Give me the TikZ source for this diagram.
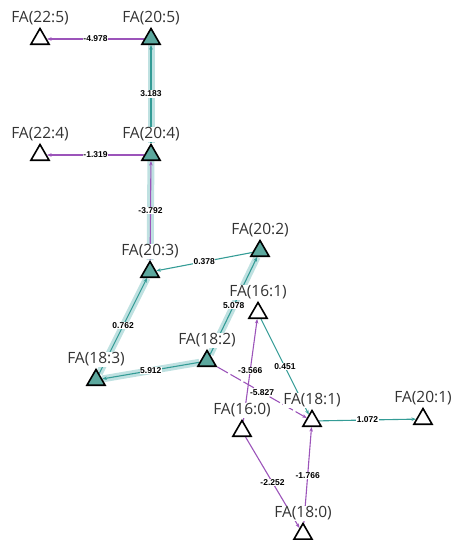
\documentclass[tikz,border=0pt]{standalone}
\usepackage{fontspec}
\setmainfont{Open Sans}
\newfontfamily\edgefont{Liberation Sans}
\usetikzlibrary{shapes.geometric,arrows.meta}
\definecolor{tealline}{RGB}{52,156,150}
\definecolor{tealfill}{RGB}{92,168,158}
\definecolor{tealglow}{RGB}{184,222,222}
\definecolor{purpline}{RGB}{156,84,186}
\definecolor{labelgray}{RGB}{51,51,51}
\pgfdeclarelayer{edges}
\pgfsetlayers{edges,main}
\begin{document}
\begin{tikzpicture}[x=1pt,y=-1pt,
  fa/.style={regular polygon,regular polygon sides=3,draw=black,line width=1.6pt,
    minimum size=21pt,inner sep=0pt},
  faon/.style={fa,fill=tealfill},
  faoff/.style={fa,fill=white},
  nlbl/.style={font=\fontsize{15.5}{16}\selectfont,text=labelgray,fill=white,inner sep=0.5pt,label distance=1pt},
  elbl/.style={font=\edgefont\bfseries\fontsize{8.5}{9}\selectfont,fill=white,inner sep=0.6pt,midway},
  tip/.style={-{Stealth[length=4.5pt,width=3.5pt]}},
  posedge/.style={tip,draw=tealline,line width=1.1pt},
  negedge/.style={tip,draw=purpline,line width=1.1pt},
  glow/.style={draw=tealglow,line width=7pt,opacity=0.9}]
\useasboundingbox (0,0) rectangle (464,540);
% nodes
\node[faoff,label={[nlbl]above:FA(22:5)}] (fa225) at (40,39) {};
\node[faon,label={[nlbl]above:FA(20:5)}] (fa205) at (151,39) {};
\node[faoff,label={[nlbl]above:FA(22:4)}] (fa224) at (40,155) {};
\node[faon,label={[nlbl]above:FA(20:4)}] (fa204) at (151,155) {};
\node[faon,label={[nlbl]above:FA(20:3)}] (fa203) at (150,272) {};
\node[faon,label={[nlbl]above:FA(20:2)}] (fa202) at (260,251) {};
\node[faoff,label={[nlbl]above:FA(16:1)}] (fa161) at (258,313) {};
\node[faon,label={[nlbl]above:FA(18:2)}] (fa182) at (207,361) {};
\node[faon,label={[nlbl]above:FA(18:3)}] (fa183) at (96,380) {};
\node[faoff,label={[nlbl]above:FA(16:0)}] (fa160) at (242,431) {};
\node[faoff,label={[nlbl]above:FA(18:1)}] (fa181) at (312,421) {};
\node[faoff,label={[nlbl]above:FA(20:1)}] (fa201) at (423,419) {};
\node[faoff,label={[nlbl]above:FA(18:0)}] (fa180) at (303,534) {};
% edges
\begin{pgfonlayer}{edges}
\draw[glow] (fa204) -- (fa205);
\draw[glow] (fa203) -- (fa204);
\draw[glow] (fa183) -- (fa203);
\draw[glow] (fa182) -- (fa183);
\draw[glow] (fa182) -- (fa202);
\draw[negedge] (fa205) -- (fa225) node[elbl] {-4.978};
\draw[posedge] (fa204) -- (fa205) node[elbl] {3.183};
\draw[negedge] (fa204) -- (fa224) node[elbl] {-1.319};
\draw[negedge] (fa203) -- (fa204) node[elbl] {-3.792};
\draw[posedge] (fa202) -- (fa203) node[elbl] {0.378};
\draw[posedge] (fa183) -- (fa203) node[elbl] {0.762};
\draw[posedge] (fa182) -- (fa183) node[elbl] {5.912};
\draw[posedge] (fa182) -- (fa202) node[elbl] {5.078};
\draw[negedge] (fa160) -- (fa161) node[elbl] {-3.566};
\draw[posedge] (fa161) -- (fa181) node[elbl] {0.451};
\draw[negedge,dash pattern=on 12pt off 3pt] (fa182) -- (fa181) node[elbl] {-5.827};
\draw[posedge] (fa181) -- (fa201) node[elbl] {1.072};
\draw[negedge] (fa180) -- (fa181) node[elbl] {-1.766};
\draw[negedge] (fa160) -- (fa180) node[elbl] {-2.252};
\end{pgfonlayer}
\end{tikzpicture}
\end{document}
